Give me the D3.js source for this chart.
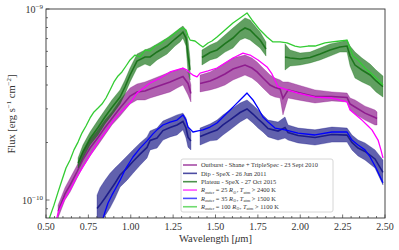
<!DOCTYPE html>
<html><head><meta charset="utf-8">
<script src="https://cdn.jsdelivr.net/npm/d3@7"></script>
<style>body{margin:0;background:#fff} svg{display:block}</style>
</head><body>
<svg id="c" width="399" height="250"></svg>
<script>
// ---- tick labels ----
const xTickValues = [0.50,0.75,1.00,1.25,1.50,1.75,2.00,2.25,2.50];
const yMajorTicks = [1e-10, 1e-9];
const yMajorLabels = ["\u221210", "\u22129"];
const UNIT = 1e-10; // flux values below are in units of 1e-10 erg s^-1 cm^-2

// ---- series names ----
const seriesNames = [
  "Outburst - Shane + TripleSpec - 23 Sept 2010",
  "Dip - SpeX - 26 Jun 2011",
  "Plateau - SpeX - 27 Oct 2015",
  "R25", "R35", "R100"
];
const modelLabels = [["25","2400"],["35","1500"],["100","1100"]];

// ---- observed spectra (wavelength, lower, upper envelope); null = gap ----
const outW  = [0.571,0.612,0.642,0.683,0.718,0.760,0.807,0.848,0.889,0.937,0.996,1.037,1.084,1.114,1.173,1.232,1.273,1.308,1.338,1.355,null,1.409,1.468,1.509,1.556,1.603,1.674,1.715,1.745,1.780,1.804,1.822,1.851,1.881,1.898,1.928,1.987,2.087,2.187,2.276,2.294,2.323,2.382,2.441,2.453];
const outLo = [0.805,1.00,1.10,1.30,1.49,1.70,1.94,2.19,2.47,2.75,3.18,3.34,3.34,3.42,3.55,3.68,3.86,4.00,3.55,3.26,null,3.68,3.77,3.86,4.00,4.25,4.51,4.35,4.15,3.86,3.68,3.55,3.46,3.42,2.79,3.42,3.34,3.22,3.30,3.26,2.96,2.82,2.62,2.47,2.47];
const outHi = [0.94,1.16,1.30,1.52,1.78,2.06,2.33,2.62,2.89,3.34,3.86,4.05,4.15,4.25,4.46,4.68,4.79,4.91,4.68,4.00,null,4.51,4.68,4.91,5.22,5.54,5.74,5.54,5.28,4.91,4.68,4.51,4.35,4.25,4.15,4.15,4.00,3.77,3.68,3.63,3.42,3.34,3.10,2.96,2.89];

const dipW  = [0.801,0.819,0.848,0.878,0.907,0.937,0.978,1.013,1.055,1.096,1.114,1.155,1.190,1.232,1.273,1.308,1.326,1.338,1.355,null,1.409,1.468,1.509,1.544,1.586,1.645,1.686,1.721,1.751,1.780,1.810,1.869,1.910,1.928,1.987,2.087,2.187,2.276,2.305,2.341,2.382,2.441,2.488];
const dipLo = [0.767,0.767,0.825,0.91,1.02,1.17,1.27,1.38,1.52,1.66,1.83,1.87,2.06,2.14,2.19,2.33,2.11,1.89,1.83,null,1.94,2.04,2.06,2.19,2.33,2.56,2.69,2.53,2.38,2.27,2.14,2.06,2.11,2.06,1.99,1.94,2.01,2.01,1.83,1.70,1.62,1.47,1.20];
const dipHi = [1.06,1.16,1.27,1.38,1.47,1.56,1.70,1.83,1.99,2.14,2.30,2.38,2.59,2.69,2.79,2.85,2.69,2.41,2.27,null,2.38,2.50,2.62,2.79,2.96,3.22,3.34,3.14,2.96,2.79,2.62,2.56,2.72,2.47,2.38,2.33,2.41,2.38,2.19,2.06,1.99,1.83,1.62];

const plaW  = [0.689,0.718,0.760,0.807,0.848,0.889,0.937,0.966,0.996,1.037,1.084,1.114,1.155,1.214,1.261,1.291,1.308,1.326,1.338,1.350,null,1.420,1.468,1.509,1.556,1.603,1.645,1.674,1.704,1.733,1.763,1.798,null,1.910,1.940,1.999,2.058,2.117,2.176,2.234,2.276,2.294,2.323,2.364,2.412,2.447,2.488];
const plaLo = [1.47,1.66,1.94,2.19,2.50,2.79,3.18,3.59,4.15,4.91,5.15,5.03,5.41,5.81,6.40,6.72,7.05,6.40,4.68,4.25,null,5.09,5.41,5.54,5.95,6.25,6.88,7.05,6.88,6.56,6.25,5.67,null,4.79,5.03,5.09,5.22,5.41,5.67,5.95,5.95,5.03,4.35,4.15,3.96,3.68,3.46];
const plaHi = [1.66,1.94,2.27,2.62,2.96,3.34,3.77,4.25,4.91,5.81,6.10,6.25,6.56,7.05,7.58,7.95,8.14,7.76,6.88,5.41,null,6.10,6.48,6.72,7.31,7.95,8.55,8.98,8.76,8.14,7.58,6.72,null,6.56,6.10,5.88,5.95,6.25,6.56,6.72,6.88,6.40,5.95,5.54,5.15,4.79,4.46];

// ---- models ----
const r25W = [0.559,0.571,0.606,0.642,0.677,0.718,0.754,0.789,0.824,0.860,0.895,0.937,0.966,0.996,1.037,1.084,1.114,1.173,1.232,1.308,1.332,1.350,1.367,1.391,1.409,1.456,1.509,1.556,1.603,1.662,1.704,1.751,1.804,1.833,1.869,1.910,1.987,2.087,2.187,2.276,2.294,2.329,2.364,2.400,2.423,2.459,2.476,2.488];
const r25F = [0.767,0.855,1.00,1.13,1.30,1.49,1.68,1.89,2.11,2.33,2.59,2.85,3.03,3.22,3.63,3.91,4.10,4.35,4.68,4.91,4.79,4.62,4.51,4.41,4.62,4.74,4.91,5.22,5.54,5.88,5.74,5.41,4.97,4.57,3.91,3.81,3.63,3.46,3.42,3.26,2.96,2.79,2.62,2.44,2.33,2.06,1.83,1.66];

const r35W = [0.830,0.848,0.866,0.889,0.913,0.937,0.972,1.013,1.055,1.096,1.131,1.155,1.190,1.232,1.273,1.308,1.326,1.338,1.367,1.397,1.426,1.468,1.509,1.544,1.586,1.615,1.645,1.686,1.721,1.751,1.780,1.810,1.851,1.910,1.987,2.087,2.187,2.276,2.305,2.341,2.382,2.412,2.447,2.488];
const r35F = [0.767,0.865,0.964,1.06,1.16,1.27,1.47,1.68,1.87,2.04,2.22,2.33,2.47,2.56,2.62,2.79,2.62,2.41,2.27,2.30,2.33,2.41,2.53,2.72,2.96,3.14,3.34,3.63,3.34,3.03,2.72,2.56,2.38,2.33,2.24,2.19,2.27,2.27,2.06,1.94,1.83,1.68,1.47,1.23];

const r100W = [0.512,0.547,0.571,0.594,0.618,0.642,0.665,0.689,0.712,0.736,0.760,0.783,0.807,0.830,0.854,0.878,0.901,0.925,0.948,0.972,0.996,1.025,1.055,1.084,1.114,1.143,1.173,1.202,1.232,1.261,1.291,1.308,1.326,1.338,1.350,1.379,1.409,1.426,1.456,1.479,1.509,1.556,1.603,1.645,1.686,1.715,1.763,1.804,1.839,1.881,1.922,1.969,1.999,2.046,2.087,2.146,2.187,2.234,2.276,2.294,2.311,2.341,2.382,2.423,2.459,2.488];
const r100F = [0.767,0.94,1.10,1.27,1.47,1.62,1.83,2.01,2.24,2.44,2.69,2.89,3.03,3.18,3.42,3.77,4.15,4.46,4.68,5.03,5.41,5.74,5.61,6.10,6.03,6.40,6.56,6.88,7.13,7.49,7.85,7.95,7.76,7.22,6.88,6.80,6.48,6.32,6.64,6.80,7.13,7.76,8.45,8.98,9.53,8.76,7.76,7.13,6.72,6.72,6.64,6.40,6.32,6.40,6.40,6.64,6.72,6.80,6.88,6.25,5.67,5.41,4.91,4.57,4.25,4.00];

// ---- styling ----
const colors = ["#800080","#00007a","#006400","#ff00ff","#0000ff","#33cc33"];

const svg = d3.select("#c");
const X0=46, X1=385, Y0=9, Y1=218;
const x = d3.scaleLinear().domain([0.5,2.5]).range([X0,X1]);
const y = d3.scaleLog().domain([8.05e-11,1e-9]).range([Y1,Y0]);
const FONT = "'Liberation Serif','DejaVu Serif',serif";
const INK = "#333";

svg.append("defs").append("clipPath").attr("id","clip")
  .append("rect").attr("x",X0).attr("y",Y0).attr("width",X1-X0).attr("height",Y1-Y0);
const plot = svg.append("g").attr("clip-path","url(#clip)");

function band(W,L,H){ return W.map((w,i)=>w===null?null:{w:w,lo:L[i]*UNIT,hi:H[i]*UNIT}); }
const bands = [band(outW,outLo,outHi), band(dipW,dipLo,dipHi), band(plaW,plaLo,plaHi)];
const area = d3.area().defined(d=>d!==null).x(d=>x(d.w)).y0(d=>y(d.lo)).y1(d=>y(d.hi));
const midLine = d3.line().defined(d=>d!==null).x(d=>x(d.w)).y(d=>y(Math.sqrt(d.lo*d.hi)));
bands.forEach((b,i)=>{
  plot.append("path").attr("d",area(b)).attr("fill",colors[i]).attr("fill-opacity",0.62)
    .attr("stroke",colors[i]).attr("stroke-opacity",0.4).attr("stroke-width",0.7);
  plot.append("path").attr("d",midLine(b)).attr("fill","none").attr("stroke",colors[i])
    .attr("stroke-width",1.6).attr("stroke-opacity",0.7);
});

const models = [[r25W,r25F],[r35W,r35F],[r100W,r100F]];
const line = d3.line().x(d=>x(d[0])).y(d=>y(d[1]*UNIT));
models.forEach((m,i)=>{
  const pts = m[0].map((w,j)=>[w,m[1][j]]);
  plot.append("path").attr("d",line(pts)).attr("fill","none")
    .attr("stroke",colors[3+i]).attr("stroke-width",1.3).attr("stroke-linejoin","round");
});

// ---- axes ----
const ax = svg.append("g").attr("stroke",INK);
const xMinor = d3.range(0.5,2.5001,0.05).map(v=>+v.toFixed(2));
xMinor.forEach(v=>{
  const major = xTickValues.some(t=>Math.abs(t-v)<1e-6);
  ax.append("line").attr("x1",x(v)).attr("x2",x(v)).attr("y1",Y1).attr("y2",Y1-(major?3.5:2)).attr("stroke-width",0.7);
});
const yMinor = [9e-11,2e-10,3e-10,4e-10,5e-10,6e-10,7e-10,8e-10,9e-10];
yMinor.forEach(v=>ax.append("line").attr("x1",X0).attr("x2",X0+2).attr("y1",y(v)).attr("y2",y(v)).attr("stroke-width",0.7));
yMajorTicks.forEach(v=>ax.append("line").attr("x1",X0).attr("x2",X0+3.5).attr("y1",y(v)).attr("y2",y(v)).attr("stroke-width",0.7));
svg.append("rect").attr("x",X0).attr("y",Y0).attr("width",X1-X0).attr("height",Y1-Y0)
  .attr("fill","none").attr("stroke",INK).attr("stroke-width",0.9);

xTickValues.forEach(v=>{
  svg.append("text").attr("x",x(v)).attr("y",Y1+12).attr("text-anchor","middle")
    .attr("font-family",FONT).attr("font-size",10).attr("fill",INK).text(v.toFixed(2));
});
yMajorTicks.forEach((v,i)=>{
  const t = svg.append("text").attr("x",X0-3).attr("y",y(v)+3.5).attr("text-anchor","end")
    .attr("font-family",FONT).attr("font-size",10).attr("fill",INK);
  t.append("tspan").text("10");
  t.append("tspan").attr("dy",-4).attr("font-size",7).text(yMajorLabels[i]);
});

const xl = svg.append("text").attr("x",(X0+X1)/2).attr("y",242).attr("text-anchor","middle")
  .attr("font-family",FONT).attr("font-size",10.5).attr("fill",INK);
xl.append("tspan").text("Wavelength [");
xl.append("tspan").attr("font-style","italic").text("\u03bc");
xl.append("tspan").text("m]");

const yl = svg.append("text").attr("transform","translate(15,114) rotate(-90)").attr("text-anchor","middle")
  .attr("font-family",FONT).attr("font-size",10.5).attr("fill",INK);
yl.append("tspan").text("Flux [erg s");
yl.append("tspan").attr("dy",-4).attr("font-size",7).text("\u22121");
yl.append("tspan").attr("dy",4).text(" cm");
yl.append("tspan").attr("dy",-4).attr("font-size",7).text("\u22122");
yl.append("tspan").attr("dy",4).text("]");

// ---- legend ----
const lg = svg.append("g");
lg.append("rect").attr("x",181).attr("y",159).attr("width",152).attr("height",53).attr("rx",2)
  .attr("fill","#fff").attr("fill-opacity",0.85).attr("stroke","#ccc").attr("stroke-width",0.8);
seriesNames.forEach((name,i)=>{
  const yy = 165 + i*8.35;
  lg.append("line").attr("x1",183).attr("x2",197).attr("y1",yy).attr("y2",yy)
    .attr("stroke",colors[i]).attr("stroke-width",1.6).attr("stroke-opacity",0.7);
  const t = lg.append("text").attr("x",201).attr("y",yy+2.2).attr("font-family",FONT)
    .attr("font-size",6.4).attr("fill",INK);
  if(i<3){ t.text(name); }
  else {
    const m = modelLabels[i-3];
    t.append("tspan").attr("font-style","italic").text("R");
    t.append("tspan").attr("font-size",4.5).attr("dy",1.3).text("outer");
    t.append("tspan").attr("dy",-1.3).text(" = "+m[0]+" ");
    t.append("tspan").attr("font-style","italic").text("R");
    t.append("tspan").attr("font-size",4.5).attr("dy",1.3).text("\u2299");
    t.append("tspan").attr("dy",-1.3).text(", ");
    t.append("tspan").attr("font-style","italic").text("T");
    t.append("tspan").attr("font-size",4.5).attr("dy",1.3).text("atm");
    t.append("tspan").attr("dy",-1.3).text(" > "+m[1]+" K");
  }
});
</script>
</body></html>
